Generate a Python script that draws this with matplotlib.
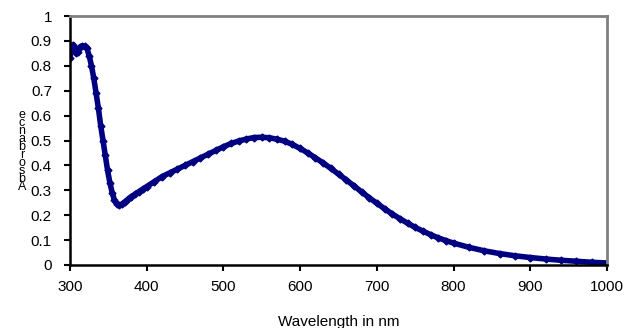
import matplotlib
matplotlib.use("Agg")
import matplotlib.pyplot as plt

plt.rcParams['font.family'] = ['Liberation Sans', 'DejaVu Sans']

# absorbance spectrum
wavelength = [300, 302, 304, 306, 308, 310, 313, 316, 319, 322, 325, 328, 331, 334,
              337, 340, 343, 346, 349, 352, 355, 358, 361, 364, 368, 372, 376, 380,
              385, 390, 395, 400, 410, 420, 430, 440, 450, 460, 470, 480, 490, 500,
              510, 520, 530, 540, 550, 560, 570, 580, 590, 600, 610, 620, 630, 640,
              650, 660, 670, 680, 690, 700, 710, 720, 730, 740, 750, 760, 770, 780,
              790, 800, 820, 840, 860, 880, 900, 920, 940, 960, 980, 1000]
absorbance = [0.83, 0.88, 0.885, 0.87, 0.85, 0.855, 0.875, 0.88, 0.878, 0.87, 0.84, 0.80,
              0.75, 0.69, 0.63, 0.56, 0.50, 0.44, 0.38, 0.33, 0.29, 0.26, 0.245, 0.24,
              0.245, 0.255, 0.265, 0.275, 0.285, 0.295, 0.305, 0.315, 0.335, 0.355, 0.37,
              0.385, 0.40, 0.415, 0.43, 0.445, 0.46, 0.475, 0.488, 0.498, 0.506, 0.512,
              0.513, 0.511, 0.505, 0.497, 0.484, 0.468, 0.45, 0.43, 0.41, 0.388, 0.365,
              0.342, 0.318, 0.294, 0.27, 0.248, 0.226, 0.205, 0.186, 0.168, 0.151, 0.136,
              0.122, 0.109, 0.098, 0.088, 0.071, 0.057, 0.046, 0.037, 0.03, 0.024, 0.019,
              0.015, 0.011, 0.008]

xticks = [300, 400, 500, 600, 700, 800, 900, 1000]
yticks = [0, 0.1, 0.2, 0.3, 0.4, 0.5, 0.6, 0.7, 0.8, 0.9, 1]
ytick_labels = ['0', '0.1', '0.2', '0.3', '0.4', '0.5', '0.6', '0.7', '0.8', '0.9', '1']

fig = plt.figure(figsize=(6.28, 3.28), dpi=100)
ax = fig.add_axes([70/628, 1-265/328, 537/628, 249/328])

ax.plot(wavelength, absorbance, color='#000080', linewidth=4,
        marker='D', markersize=3.5, solid_capstyle='round')

ax.set_xlim(300, 1000)
ax.set_ylim(0, 1)
ax.set_xticks(xticks)
ax.set_yticks(yticks)
ax.set_yticklabels(ytick_labels)
ax.tick_params(direction='out', length=4, width=1.5, labelsize=11, color='black')
ax.tick_params(axis='y', pad=9)
ax.tick_params(axis='x', pad=7)

for side in ['left', 'bottom']:
    ax.spines[side].set_color('black')
    ax.spines[side].set_linewidth(1.8)
for side in ['top', 'right']:
    ax.spines[side].set_color('#808080')
    ax.spines[side].set_linewidth(2)

ax.set_xlabel('Wavelength in nm', fontsize=11, labelpad=15)
# stacked y label like the original
fig.text(22/628, 1-151/328, '\n'.join(reversed('Absorbance')), fontsize=9,
         ha='center', va='center', linespacing=0.55)

fig.savefig('out.png', dpi=100)
